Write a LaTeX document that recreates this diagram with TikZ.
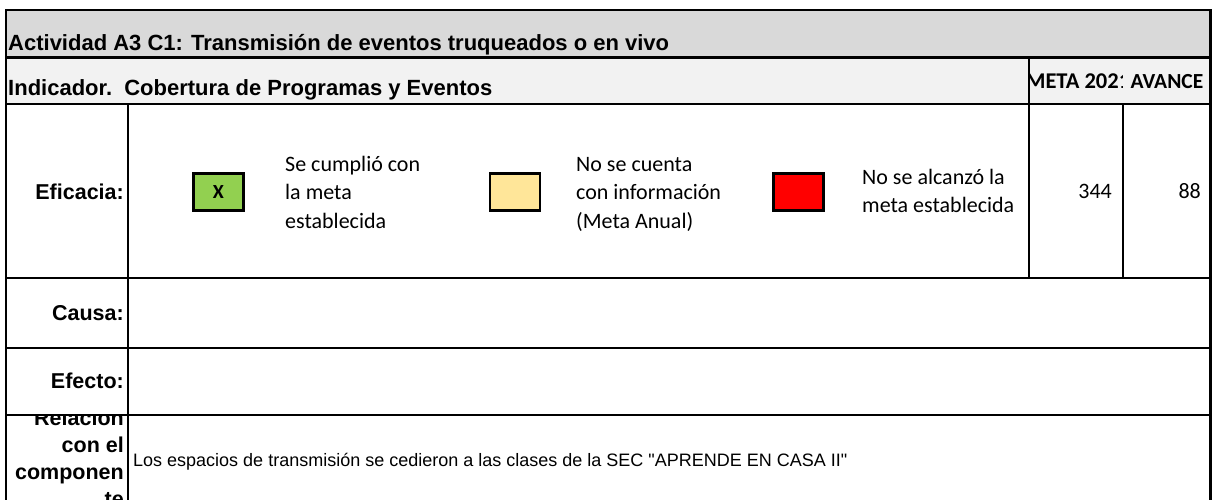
\documentclass[tikz,border=0pt]{standalone}
\usepackage{fontspec}
\setmainfont{Liberation Sans}[Ligatures=TeXOff]
\newfontfamily\calibri{Carlito}
\definecolor{titlegray}{HTML}{D9D9D9}
\definecolor{indgray}{HTML}{F2F2F2}
\definecolor{okgreen}{HTML}{92D050}
\definecolor{nayellow}{HTML}{FFE699}
\definecolor{badred}{HTML}{FF0000}
\tikzset{
  grid/.style={line width=2.6pt, line cap=rect},
  hdr/.style={inner sep=0pt, anchor=base west, font=\fontsize{22}{26}\selectfont\bfseries},
  lbl/.style={inner sep=0pt, anchor=base east, font=\fontsize{21.5}{27}\selectfont\bfseries},
  legbox/.style={draw, line width=2.6pt, minimum width=50pt, minimum height=37pt, inner sep=0pt},
  legtxt/.style={inner sep=0pt, anchor=west, align=left, font=\calibri\fontsize{22}{28.5}\selectfont},
  num/.style={inner sep=0pt, anchor=base east, font=\calibri\fontsize{22}{26}\selectfont},
  colhdr/.style={inner sep=0pt, anchor=base, font=\calibri\bfseries\fontsize{21.5}{25}\selectfont},
  body/.style={inner sep=0pt, anchor=base west, font=\fontsize{18}{22}\selectfont}
}
\begin{document}
\begin{tikzpicture}[x=1pt,y=-1pt]
\useasboundingbox (0,0) rectangle (1212,500);
\clip (0,0) rectangle (1212,500);
% fills
\fill[titlegray] (6,10) rectangle (1210,57.5);
\fill[indgray] (6,57.5) rectangle (1210,104);
% header texts
\node[hdr] (title) at (8,51) {Actividad A3 C1: Transmisión de eventos truqueados o en vivo};
\node[hdr] (ind) at (8,96) {Indicador.\ \ Cobertura de Programas y Eventos};
\begin{scope}
  \clip (1030,58) rectangle (1122,103);
  \node[colhdr, font=\calibri\bfseries\fontsize{22.5}{25}\selectfont] (meta) at (1078,89) {META 2021};
\end{scope}
\node[colhdr] (avance) at (1167,89) {AVANCE};
% row labels
\node[lbl] (efic) at (124,199.5) {Eficacia:};
\node[lbl] (causa) at (124,320) {Causa:};
\node[lbl] (efecto) at (124,388) {Efecto:};
\begin{scope}
  \clip (7,416.5) rectangle (127,500);
  \node[inner sep=0pt, anchor=east, align=right, font=\fontsize{21.5}{27}\selectfont\bfseries] (rel) at (124,458) {Relación\\con el\\componen\\te};
\end{scope}
% legend
\node[legbox, fill=okgreen, font=\calibri\bfseries\fontsize{20}{24}\selectfont] (green) at (218.5,192) {X};
\node[legtxt] (gtxt) at (285,192) {Se cumplió con\\la meta\\establecida};
\node[legbox, fill=nayellow] (yellow) at (515,192) {};
\node[legtxt] (ytxt) at (576,194) {No se cuenta\\con información\\(Meta Anual)};
\node[legbox, fill=badred] (red) at (798.5,192) {};
\node[legtxt] (rtxt) at (862,191) {No se alcanzó la\\meta establecida};
% numbers
\node[num] (n344) at (1112,198) {344};
\node[num] (n88) at (1201,198) {88};
% body
\node[body] (rtext) at (133,466) {Los espacios de transmisión se cedieron a las clases de la SEC "APRENDE EN CASA II"};
% grid lines
\draw[grid] (6,10) -- (1210.5,10);
\draw[grid] (6,57.5) -- (1210.5,57.5);
\draw[grid] (6,104) -- (1210.5,104);
\draw[grid] (6,278) -- (1210.5,278);
\draw[grid] (6,348) -- (1210.5,348);
\draw[grid] (6,415) -- (1210.5,415);
\draw[grid] (6,10) -- (6,510);
\draw[grid] (1210.5,10) -- (1210.5,510);
\draw[grid] (128,104) -- (128,510);
\draw[grid] (1029,57.5) -- (1029,278);
\draw[grid] (1123,104) -- (1123,278);
\end{tikzpicture}
\end{document}
